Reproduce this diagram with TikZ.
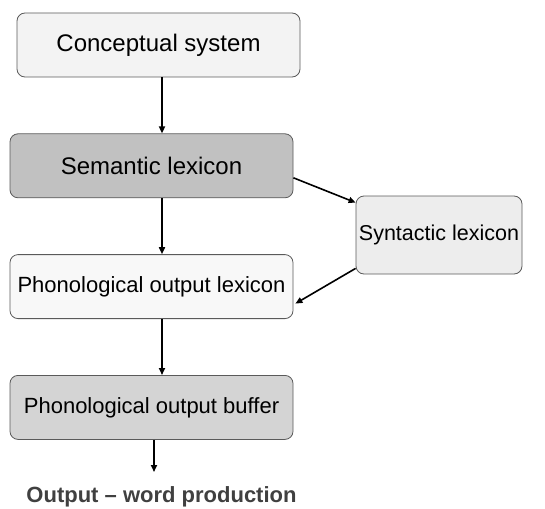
\documentclass[tikz,border=0pt]{standalone}
\usepackage{fontspec}
\setmainfont{Liberation Sans}
\usetikzlibrary{arrows.meta,positioning}

\definecolor{boxline}{HTML}{5A5A5A}
\definecolor{paleBox}{HTML}{F3F3F3}
\definecolor{palerBox}{HTML}{F8F8F8}
\definecolor{synBox}{HTML}{EDEDED}
\definecolor{semBox}{HTML}{C1C1C1}
\definecolor{bufBox}{HTML}{D4D4D4}
\definecolor{outText}{HTML}{404040}

\begin{document}
\begin{tikzpicture}[x=1pt,y=-1pt]
      \useasboundingbox (0,0) rectangle (545,508);
      \begin{scope}[every node/.style={rectangle,rounded corners=8pt,draw=boxline,line width=0.8pt,
          minimum width=283pt,minimum height=64pt,inner sep=0pt,font=\fontsize{22}{26}\selectfont}]
        \node[fill=paleBox,font=\fontsize{24}{28}\selectfont] (concept) at (158.5,45) {Conceptual system};
        \node[fill=semBox,font=\fontsize{24}{28}\selectfont] (semantic) [below=56pt of concept,xshift=-7pt] {Semantic lexicon};
        \node[fill=palerBox] (phonlex) [below=56pt of semantic] {Phonological output lexicon};
        \node[fill=bufBox] (buffer) [below=56pt of phonlex] {Phonological output buffer};
        \node[fill=synBox,minimum width=166pt,minimum height=78pt,font=\fontsize{21.5}{26}\selectfont] (syntactic) at (439,235) {Syntactic lexicon};
      \end{scope}
      \node[anchor=base,text=outText,font=\bfseries\fontsize{22}{26}\selectfont] (output) at (161.5,502) {Output – word production};
      \coordinate (spine) at (162,0);
      \coordinate (outend) at (154,472);
      \begin{scope}
        [every edge/.style={draw=black,line width=1.6pt,-{Triangle[length=7pt,width=6pt]}}]
        \path (concept.south -| spine) edge (semantic.north -| spine);
        \path (semantic.south -| spine) edge (phonlex.north -| spine);
        \path (phonlex.south -| spine) edge (buffer.north -| spine);
        \path (buffer.south -| outend) edge (outend);
        \path ([yshift=-12pt]semantic.east) edge ([yshift=-7pt]syntactic.north west);
        \path ([yshift=6pt]syntactic.south west) edge ([xshift=2pt,yshift=-17pt]phonlex.east);
      \end{scope}
    \end{tikzpicture}
\end{document}
